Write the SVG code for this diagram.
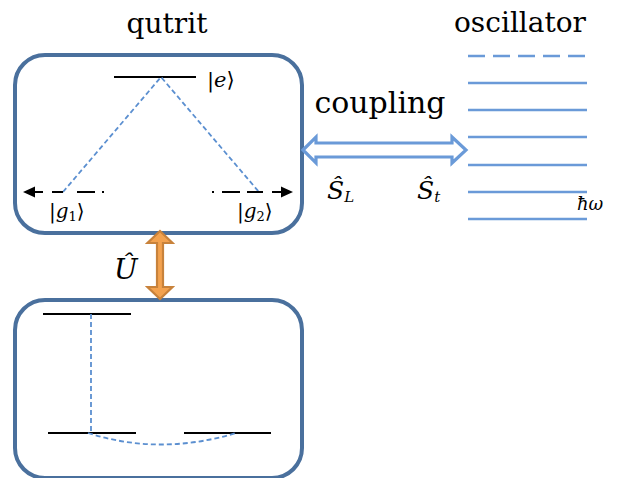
<svg xmlns="http://www.w3.org/2000/svg" width="618" height="478" viewBox="0 0 618 478">
<defs>
<style>
.box{fill:#fff;stroke:#4a709d;stroke-width:4}
.lvl{stroke:#000;stroke-width:2}
.bd{fill:none;stroke:#5b8fd0;stroke-width:1.8;stroke-dasharray:5,3}
.osc{stroke:#6a9ad8;stroke-width:2.4}
.t{fill:#000;font-family:'DejaVu Serif', serif}
.m{font-style:italic;fill:#000;font-family:'DejaVu Serif', serif}
.n{font-style:normal}
.bk{stroke:#000;stroke-width:2;fill:none}
</style>
</defs>
<rect width="618" height="478" fill="#fff"/>
<text class="t" x="167" y="33" font-size="28" text-anchor="middle">qutrit</text>
<text class="t" x="520" y="32" font-size="28" text-anchor="middle">oscillator</text>
<g id="qutrit">
<rect class="box" x="15" y="55" width="287" height="178" rx="30"/>
<line class="lvl" x1="114" y1="77" x2="196" y2="77"/>
<polyline class="bd" points="63,192 161,77 259,192"/>
<path class="bk" d="M35 192H43M52 192H63M77 192H95M102 192H104"/>
<polygon points="23,192 35,186.5 35,197.5" fill="#000"/>
<path class="bk" d="M212 192H214M222 192H240M247 192H263M272 192H281"/>
<polygon points="293,192 281,186.5 281,197.5" fill="#000"/>
<text class="m" x="207" y="87" font-size="21"><tspan class="n">|</tspan>e<tspan class="n">⟩</tspan></text>
<text class="m" x="49" y="218" font-size="20"><tspan class="n">|</tspan>g<tspan class="n" font-size="13" dy="3">1</tspan><tspan class="n" dy="-3">⟩</tspan></text>
<text class="m" x="237" y="218" font-size="20"><tspan class="n">|</tspan>g<tspan class="n" font-size="13" dy="3">2</tspan><tspan class="n" dy="-3">⟩</tspan></text>
</g>
<g id="basis">
<rect class="box" x="15" y="300" width="287" height="178" rx="30"/>
<line class="lvl" x1="43" y1="314" x2="131" y2="314"/>
<line class="lvl" x1="48" y1="433" x2="136" y2="433"/>
<line class="lvl" x1="184" y1="433" x2="271" y2="433"/>
<line class="bd" x1="91" y1="314" x2="91" y2="433"/>
<path class="bd" d="M88 433Q160 456 236 433"/>
</g>
<g id="oscillator">
<line class="osc" x1="468" y1="56" x2="586" y2="56" stroke-dasharray="17,8"/>
<line class="osc" x1="468" y1="83" x2="587" y2="83"/>
<line class="osc" x1="468" y1="110" x2="587" y2="110"/>
<line class="osc" x1="468" y1="137" x2="587" y2="137"/>
<line class="osc" x1="468" y1="165" x2="587" y2="165"/>
<line class="osc" x1="468" y1="192" x2="587" y2="192"/>
<line class="osc" x1="468" y1="219" x2="587" y2="219"/>
<text class="m" x="577" y="210" font-size="18">ħω</text>
</g>
<g id="connectors">
<polygon points="303,150 316,137 316,143 452,143 452,137 466,150 452,163 452,157 316,157 316,163" fill="#fff" stroke="#6a9ad8" stroke-width="3.2" stroke-linejoin="miter"/>
<text class="t" x="380" y="113" font-size="30" text-anchor="middle">coupling</text>
<text class="m" x="327" y="199" font-size="25">Ŝ<tspan font-size="15" dy="3">L</tspan></text>
<text class="m" x="417" y="199" font-size="25">Ŝ<tspan font-size="15" dy="3">t</tspan></text>
<polygon points="160,231 172.5,243 163,243 163,287 172.5,287 160,299 147.5,287 157,287 157,243 147.5,243" fill="#f3a24f" stroke="#c8823b" stroke-width="2.2"/>
<text class="m" x="114" y="279" font-size="28">Û</text>
</g>
</svg>
